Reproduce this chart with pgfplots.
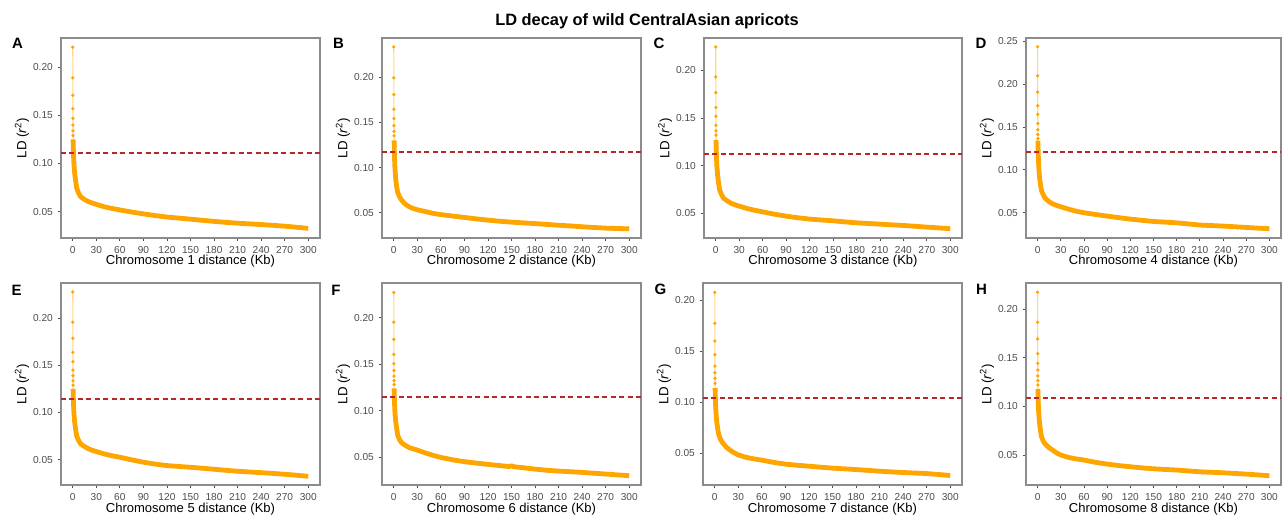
\documentclass[border=0pt]{standalone}
\usepackage{pgfplots}
\pgfplotsset{compat=1.18}
\usepackage{fontspec}
\setmainfont{Liberation Sans}
\definecolor{ldorange}{RGB}{255,165,0}
\definecolor{ldred}{RGB}{185,40,40}
\definecolor{tickgray}{RGB}{77,77,77}
\pgfplotsset{
  ldpanel/.style={
    scale only axis,
    anchor=north west,
    xmin=-15, xmax=315,
    xtick={0,30,...,300},
    ytick={0.05,0.10,0.15,0.20,0.25},
    tick align=outside,
    tick pos=left,
    major tick length=2.6pt,
    axis line style={black!45, line width=0.8pt},
    every tick/.style={black!70, line width=0.6pt},
    /pgf/number format/assume math mode=true,
    ticklabel style={font=\fontsize{7.6}{9}\selectfont, text=tickgray},
    yticklabel style={/pgf/number format/.cd, fixed, fixed zerofill, precision=2},
    xticklabel style={/pgf/number format/.cd, fixed, precision=0},
    ylabel={LD (\textit{r}\textsuperscript{2})},
    every axis y label/.style={at={(axis description cs:-0.1506,0.5)}, rotate=90, anchor=center, font=\fontsize{10}{11}\selectfont},
    every axis x label/.style={at={(axis description cs:0.5,-0.117)}, anchor=center, font=\fontsize{9.75}{11}\selectfont},
    clip=true,
  },
  thinline/.style={ldorange, opacity=0.45, line width=0.8pt, no marks},
  dots/.style={only marks, mark=*, mark size=1.05pt, ldorange, mark options={draw=none, fill=ldorange}},
  band/.style={ldorange, line width=3.6pt, line join=round, line cap=butt, no marks},
  half/.style={ldred, line width=1.45pt, dash pattern=on 3.75pt off 2.6pt, no marks},
}
\begin{document}
\begin{tikzpicture}
\useasboundingbox (0,0) rectangle (961.5pt,-389.25pt);
\node[font=\fontsize{12.3}{14}\selectfont\bfseries] at (485.25pt,-15.75pt) {LD decay of wild CentralAsian apricots};
\node[font=\fontsize{11.25}{13}\selectfont\bfseries] at (13.1pt,-32.6pt) {A};
\node[font=\fontsize{11.25}{13}\selectfont\bfseries] at (253.9pt,-32.6pt) {B};
\node[font=\fontsize{11.25}{13}\selectfont\bfseries] at (494.3pt,-32.6pt) {C};
\node[font=\fontsize{11.25}{13}\selectfont\bfseries] at (735.8pt,-32.6pt) {D};
\node[font=\fontsize{11.25}{13}\selectfont\bfseries] at (12.4pt,-217.5pt) {E};
\node[font=\fontsize{11.25}{13}\selectfont\bfseries] at (252pt,-217.5pt) {F};
\node[font=\fontsize{11.25}{13}\selectfont\bfseries] at (495.4pt,-217.2pt) {G};
\node[font=\fontsize{11.25}{13}\selectfont\bfseries] at (736.1pt,-217.2pt) {H};

% ---------------- A ----------------
\begin{axis}[ldpanel, at={(45.75pt,-28.5pt)}, width=194.25pt, height=150pt,
  ymin=0.0225, ymax=0.2305, xlabel={Chromosome 1 distance (Kb)}]
\addplot[thinline] coordinates {(0,0.221)(0.05,0.189)(0.1,0.171)(0.15,0.157)(0.2,0.147)(0.25,0.140)(0.3,0.134)(0.35,0.129)(0.4,0.125)};
\addplot[band] coordinates {(0.4,0.125)(0.6,0.118)(1,0.108)(1.5,0.099)(2.5,0.089)(4,0.080)(5,0.0745)(7.5,0.0690)(10,0.0655)(15,0.0625)(20,0.0603)(25,0.0588)(30,0.0575)(40,0.0550)(50,0.0532)(60,0.0517)(75,0.0495)(90,0.0476)(105,0.0458)(120,0.0443)(135,0.0432)(150,0.0421)(165,0.0409)(180,0.0398)(195,0.0388)(210,0.0379)(225,0.0372)(240,0.0365)(255,0.0357)(270,0.0348)(285,0.0337)(300,0.0325)};
\addplot[dots] coordinates {(0,0.221)(0.05,0.189)(0.1,0.171)(0.15,0.157)(0.2,0.147)(0.25,0.140)(0.3,0.134)(0.35,0.129)};
\addplot[half] coordinates {(-15,0.1107)(315,0.1107)};
\end{axis}

% ---------------- B ----------------
\begin{axis}[ldpanel, at={(286.5pt,-28.5pt)}, width=194.25pt, height=150pt,
  ymin=0.0223, ymax=0.2429, xlabel={Chromosome 2 distance (Kb)}]
\addplot[thinline] coordinates {(0,0.2331)(0.05,0.1989)(0.1,0.1805)(0.15,0.1643)(0.2,0.154)(0.25,0.1463)(0.3,0.140)(0.35,0.135)(0.4,0.130)};
\addplot[band] coordinates {(0.4,0.130)(0.6,0.122)(1,0.110)(1.5,0.099)(2.5,0.087)(4,0.077)(5,0.0725)(7.5,0.0675)(10,0.0640)(15,0.0595)(20,0.0566)(25,0.0548)(30,0.0535)(40,0.0515)(50,0.0495)(60,0.0481)(75,0.0465)(90,0.0450)(105,0.0434)(120,0.0420)(135,0.0408)(150,0.0398)(165,0.0390)(180,0.0382)(195,0.0373)(210,0.0364)(225,0.0356)(240,0.0347)(255,0.0339)(270,0.0332)(285,0.0328)(300,0.0324)};
\addplot[dots] coordinates {(0,0.2331)(0.05,0.1989)(0.1,0.1805)(0.15,0.1643)(0.2,0.154)(0.25,0.1463)(0.3,0.140)(0.35,0.135)};
\addplot[half] coordinates {(-15,0.1169)(315,0.1169)};
\end{axis}

% ---------------- C ----------------
\begin{axis}[ldpanel, at={(528pt,-28.5pt)}, width=193.5pt, height=150pt,
  ymin=0.0243, ymax=0.2337, xlabel={Chromosome 3 distance (Kb)}]
\addplot[thinline] coordinates {(0,0.2244)(0.05,0.193)(0.1,0.1766)(0.15,0.161)(0.2,0.1518)(0.25,0.1424)(0.3,0.1365)(0.35,0.132)(0.4,0.127)};
\addplot[band] coordinates {(0.4,0.127)(0.6,0.119)(1,0.108)(1.5,0.099)(2.5,0.089)(4,0.080)(5,0.0745)(7.5,0.0695)(10,0.0660)(15,0.0630)(20,0.0605)(25,0.0590)(30,0.0577)(40,0.0552)(50,0.0533)(60,0.0517)(75,0.0492)(90,0.0472)(105,0.0455)(120,0.0441)(135,0.0432)(150,0.0423)(165,0.0412)(180,0.0402)(195,0.0395)(210,0.0388)(225,0.0381)(240,0.0374)(255,0.0366)(270,0.0357)(285,0.0349)(300,0.0340)};
\addplot[dots] coordinates {(0,0.2244)(0.05,0.193)(0.1,0.1766)(0.15,0.161)(0.2,0.1518)(0.25,0.1424)(0.3,0.1365)(0.35,0.132)};
\addplot[half] coordinates {(-15,0.1124)(315,0.1124)};
\end{axis}

% ---------------- D ----------------
\begin{axis}[ldpanel, at={(769.5pt,-28.5pt)}, width=191.25pt, height=150pt,
  ymin=0.0206, ymax=0.2536, xlabel={Chromosome 4 distance (Kb)},
  every axis y label/.style={at={(axis description cs:-0.153,0.5)}, rotate=90, anchor=center, font=\fontsize{10}{11}\selectfont}]
\addplot[thinline] coordinates {(0,0.2434)(0.05,0.2096)(0.1,0.1906)(0.15,0.1747)(0.2,0.1646)(0.25,0.154)(0.3,0.1467)(0.35,0.1413)(0.4,0.1366)(0.45,0.134)};
\addplot[band] coordinates {(0.45,0.134)(0.6,0.126)(1,0.114)(1.5,0.103)(2.5,0.091)(4,0.081)(5,0.0760)(7.5,0.0705)(10,0.0667)(15,0.0628)(20,0.0601)(25,0.0585)(30,0.0570)(40,0.0542)(50,0.0518)(60,0.0500)(75,0.0480)(90,0.0461)(105,0.0443)(120,0.0426)(135,0.0412)(150,0.0399)(165,0.0391)(180,0.0383)(195,0.0370)(210,0.0357)(225,0.0351)(240,0.0345)(255,0.0337)(270,0.0329)(285,0.0321)(300,0.0314)};
\addplot[dots] coordinates {(0,0.2434)(0.05,0.2096)(0.1,0.1906)(0.15,0.1747)(0.2,0.1646)(0.25,0.154)(0.3,0.1467)(0.35,0.1413)(0.4,0.1366)};
\addplot[half] coordinates {(-15,0.1210)(315,0.1210)};
\end{axis}

% ---------------- E ----------------
\begin{axis}[ldpanel, at={(45.75pt,-212.25pt)}, width=194.25pt, height=151.5pt,
  ymin=0.0230, ymax=0.2373, xlabel={Chromosome 5 distance (Kb)},
  every axis x label/.style={at={(axis description cs:0.5,-0.12)}, anchor=center, font=\fontsize{9.75}{11}\selectfont}]
\addplot[thinline] coordinates {(0,0.2278)(0.05,0.1958)(0.1,0.1787)(0.15,0.1638)(0.2,0.1538)(0.25,0.1449)(0.3,0.1389)(0.35,0.1335)(0.4,0.1289)(0.45,0.125)};
\addplot[band] coordinates {(0.45,0.125)(0.6,0.119)(1,0.108)(1.5,0.099)(2.5,0.089)(4,0.080)(5,0.0750)(7.5,0.0700)(10,0.0667)(15,0.0638)(20,0.0614)(25,0.0598)(30,0.0585)(40,0.0560)(50,0.0540)(60,0.0525)(75,0.0497)(90,0.0472)(105,0.0452)(120,0.0436)(135,0.0427)(150,0.0418)(165,0.0408)(180,0.0397)(195,0.0386)(210,0.0376)(225,0.0368)(240,0.0361)(255,0.0353)(270,0.0344)(285,0.0334)(300,0.0322)};
\addplot[dots] coordinates {(0,0.2278)(0.05,0.1958)(0.1,0.1787)(0.15,0.1638)(0.2,0.1538)(0.25,0.1449)(0.3,0.1389)(0.35,0.1335)(0.4,0.1289)};
\addplot[half] coordinates {(-15,0.1147)(315,0.1147)};
\end{axis}

% ---------------- F ----------------
\begin{axis}[ldpanel, at={(286.5pt,-212.25pt)}, width=194.25pt, height=151.5pt,
  ymin=0.0199, ymax=0.2374, xlabel={Chromosome 6 distance (Kb)},
  every axis x label/.style={at={(axis description cs:0.5,-0.12)}, anchor=center, font=\fontsize{9.75}{11}\selectfont}]
\addplot[thinline] coordinates {(0,0.2273)(0.05,0.1953)(0.1,0.1767)(0.15,0.1605)(0.2,0.1505)(0.25,0.1433)(0.3,0.1372)(0.35,0.1322)(0.4,0.128)(0.45,0.124)};
\addplot[band] coordinates {(0.45,0.124)(0.6,0.118)(1,0.107)(1.5,0.098)(2.5,0.088)(4,0.079)(5,0.0735)(7.5,0.0685)(10,0.0654)(15,0.0625)(20,0.0600)(25,0.0588)(30,0.0575)(40,0.0545)(50,0.0518)(60,0.0496)(75,0.0470)(90,0.0450)(105,0.0435)(120,0.0421)(135,0.0408)(147,0.0398)(150,0.0406)(153,0.0396)(165,0.0385)(180,0.0370)(195,0.0358)(210,0.0349)(225,0.0342)(240,0.0335)(255,0.0326)(270,0.0317)(285,0.0308)(300,0.0299)};
\addplot[dots] coordinates {(0,0.2273)(0.05,0.1953)(0.1,0.1767)(0.15,0.1605)(0.2,0.1505)(0.25,0.1433)(0.3,0.1372)(0.35,0.1322)(0.4,0.128)};
\addplot[half] coordinates {(-15,0.1143)(315,0.1143)};
\end{axis}

% ---------------- G ----------------
\begin{axis}[ldpanel, at={(527.25pt,-212.25pt)}, width=194.25pt, height=151.5pt,
  ymin=0.0192, ymax=0.2166, xlabel={Chromosome 7 distance (Kb)},
  every axis x label/.style={at={(axis description cs:0.5,-0.12)}, anchor=center, font=\fontsize{9.75}{11}\selectfont}]
\addplot[thinline] coordinates {(0,0.2075)(0.05,0.1772)(0.1,0.1599)(0.15,0.1465)(0.2,0.1354)(0.25,0.1289)(0.3,0.1234)(0.35,0.1185)(0.4,0.114)};
\addplot[band] coordinates {(0.4,0.114)(0.6,0.108)(1,0.098)(1.5,0.090)(2.5,0.081)(4,0.073)(5,0.0685)(7.5,0.0635)(10,0.0604)(15,0.0560)(20,0.0530)(25,0.0505)(30,0.0486)(40,0.0462)(50,0.0447)(60,0.0435)(75,0.0413)(90,0.0396)(105,0.0385)(120,0.0376)(135,0.0366)(150,0.0357)(165,0.0350)(180,0.0343)(195,0.0335)(210,0.0327)(225,0.0320)(240,0.0314)(255,0.0309)(270,0.0304)(285,0.0295)(300,0.0285)};
\addplot[dots] coordinates {(0,0.2075)(0.05,0.1772)(0.1,0.1599)(0.15,0.1465)(0.2,0.1354)(0.25,0.1289)(0.3,0.1234)(0.35,0.1185)};
\addplot[half] coordinates {(-15,0.1044)(315,0.1044)};
\end{axis}

% ---------------- H ----------------
\begin{axis}[ldpanel, at={(769.5pt,-212.25pt)}, width=191.25pt, height=151.5pt,
  ymin=0.0192, ymax=0.2270, xlabel={Chromosome 8 distance (Kb)},
  every axis y label/.style={at={(axis description cs:-0.153,0.5)}, rotate=90, anchor=center, font=\fontsize{10}{11}\selectfont},
  every axis x label/.style={at={(axis description cs:0.5,-0.12)}, anchor=center, font=\fontsize{9.75}{11}\selectfont}]
\addplot[thinline] coordinates {(0,0.2175)(0.05,0.1866)(0.1,0.1695)(0.15,0.1544)(0.2,0.1444)(0.25,0.1375)(0.3,0.1314)(0.35,0.1266)(0.4,0.1221)(0.45,0.118)};
\addplot[band] coordinates {(0.45,0.118)(0.6,0.112)(1,0.101)(1.5,0.093)(2.5,0.083)(4,0.074)(5,0.0690)(7.5,0.0640)(10,0.0613)(15,0.0575)(20,0.0548)(25,0.0520)(30,0.0500)(40,0.0476)(50,0.0460)(60,0.0449)(75,0.0425)(90,0.0407)(105,0.0392)(120,0.0380)(135,0.0368)(150,0.0359)(165,0.0352)(180,0.0346)(195,0.0337)(210,0.0328)(225,0.0323)(240,0.0318)(255,0.0311)(270,0.0304)(285,0.0296)(300,0.0287)};
\addplot[dots] coordinates {(0,0.2175)(0.05,0.1866)(0.1,0.1695)(0.15,0.1544)(0.2,0.1444)(0.25,0.1375)(0.3,0.1314)(0.35,0.1266)(0.4,0.1221)};
\addplot[half] coordinates {(-15,0.1090)(315,0.1090)};
\end{axis}
\end{tikzpicture}
\end{document}
